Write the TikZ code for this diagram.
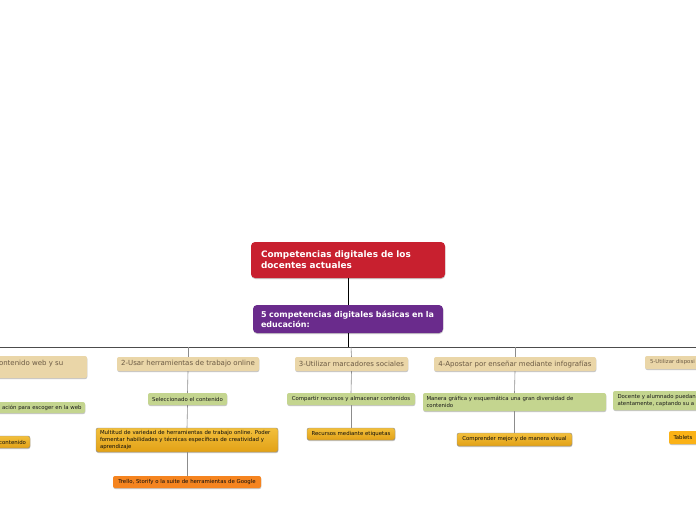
\documentclass[tikz,border=0pt]{standalone}
\usepackage{fontspec}
\setmainfont{DejaVu Sans}
\usetikzlibrary{shadows}
\definecolor{rootred}{HTML}{C8202F}
\definecolor{purp}{HTML}{6A2B8C}
\definecolor{tan}{HTML}{EAD6A8}
\definecolor{tantext}{HTML}{6B5A44}
\definecolor{grn}{HTML}{C4D58F}
\definecolor{yeltop}{HTML}{F2BF3C}
\definecolor{yelbot}{HTML}{E2A116}
\definecolor{orng}{HTML}{F5841F}
\definecolor{yel5}{HTML}{FBB216}
\tikzset{
  base/.style={rounded corners=2pt, inner sep=0pt, outer sep=0pt,
    drop shadow={shadow xshift=0.3pt, shadow yshift=-1pt, opacity=.55, fill=gray!80}},
  bigbox/.style={base, rounded corners=4pt, text=white, align=left, text width=174pt},
  topicbox/.style={base, fill=tan, text=tantext, font=\fontsize{7}{8.5}\selectfont, align=center},
  greenbox/.style={base, fill=grn, text=black!90, font=\fontsize{5.4}{6.4}\selectfont, align=center},
  yelbox/.style={base, top color=yeltop, bottom color=yelbot, draw=black!45, line width=0.4pt, text=black!95, font=\fontsize{5.4}{6.6}\selectfont, align=center},
  orbox/.style={base, fill=orng, text=black!95, font=\fontsize{5.4}{6.4}\selectfont, align=center},
  txt/.style={inner sep=0pt, outer sep=0pt},
  mainline/.style={draw=black, line width=0.9pt},
  hline/.style={draw=black!70, line width=0.7pt},
  colline/.style={draw=black!45, line width=0.6pt},
}
\begin{document}
\begin{tikzpicture}[x=1pt,y=1pt]
\useasboundingbox (0,0) rectangle (696,-520);
\clip (0,0) rectangle (696,-520);
\fill[white] (0,0) rectangle (696,-520);

% coordinates on the horizontal bar
\coordinate (hl) at (0,-347);
\coordinate (hr) at (696,-347);
\coordinate (hc) at (348,-347);
\coordinate (h2) at (188,-347);
\coordinate (h3) at (351,-347);
\coordinate (h4) at (515,-347);

% top nodes
\node[bigbox, fill=rootred, minimum width=194pt, minimum height=36pt,
  font=\fontsize{8.9}{11}\selectfont\bfseries] (root) at (348,-260)
  {Competencias digitales de los\\docentes actuales};
\node[bigbox, fill=purp, minimum width=190pt, minimum height=28pt,
  font=\fontsize{8}{10}\selectfont\bfseries] (purple) at (348,-319)
  {5 competencias digitales básicas en la\\educación:};

% topic boxes
\node[topicbox, minimum width=120pt, minimum height=22pt, anchor=east] (t1) at (87,-367) {};
\node[txt, anchor=west, text=tantext, font=\fontsize{7}{8.5}\selectfont] (t1t) at (-1,-363.5) {ontenido web y su};
\node[topicbox, minimum width=142pt, minimum height=14pt] (t2) at (188,-364) {2-Usar herramientas de trabajo online};
\node[topicbox, minimum width=113pt, minimum height=14pt] (t3) at (351.5,-364) {3-Utilizar marcadores sociales};
\node[topicbox, minimum width=162pt, minimum height=14pt] (t4) at (515,-364) {4-Apostar por enseñar mediante infografías};
\node[topicbox, minimum width=100pt, minimum height=13pt, anchor=west] (t5) at (645,-362.5) {};
\node[txt, anchor=west, text=tantext, font=\fontsize{5.4}{6.4}\selectfont] (t5t) at (650,-362.5) {5-Utilizar disposi};

% green boxes
\node[greenbox, minimum width=120pt, minimum height=11pt, anchor=east] (g1) at (85,-407.5) {};
\node[txt, anchor=east, font=\fontsize{5.4}{6.4}\selectfont, text=black!90] (g1t) at (81.5,-407.5) {ación para escoger en la web};
\node[greenbox, minimum width=79pt, minimum height=12pt] (g2) at (187.5,-399) {Seleccionado el contenido};
\node[greenbox, minimum width=128pt, minimum height=12pt] (g3) at (351,-399) {Compartir recursos y almacenar contenidos};
\node[greenbox, minimum width=183pt, minimum height=18pt, align=left, text width=176pt] (g4) at (514.5,-402)
  {Manera gráfica y esquemática una gran diversidad de\\contenido};
\node[greenbox, minimum width=100pt, minimum height=19pt, anchor=west] (g5) at (613,-400.5) {};
\node[txt, anchor=west, align=left, font=\fontsize{5.4}{6.4}\selectfont, text=black!90] (g5t) at (617.5,-400.5)
  {Docente y alumnado puedan\\atentamente, captando su a};

% yellow boxes
\node[yelbox, minimum width=60pt, minimum height=12pt, anchor=east] (y1) at (30,-442) {};
\node[txt, anchor=east, font=\fontsize{5.4}{6.4}\selectfont, text=black!95] (y1t) at (26,-442) {contenido};
\node[yelbox, minimum width=182pt, minimum height=24pt, align=left, text width=174pt] (y2) at (187,-440)
  {Multitud de variedad de herramientas de trabajo online. Poder\\fomentar habilidades y técnicas específicas de creatividad y\\aprendizaje};
\node[yelbox, minimum width=88pt, minimum height=12pt] (y3) at (351,-434) {Recursos mediante etiquetas};
\node[yelbox, minimum width=115pt, minimum height=13pt] (y4) at (514.5,-439.5) {Comprender mejor y de manera visual};
\node[base, fill=yel5, minimum width=60pt, minimum height=13pt, anchor=west] (y5) at (669,-437.5) {};
\node[txt, anchor=west, font=\fontsize{5.4}{6.4}\selectfont, text=black!95] (y5t) at (673.5,-437.5) {Tablets};

% orange box
\node[orbox, minimum width=148pt, minimum height=12pt] (o2) at (187,-482) {Trello, Storify o la suite de herramientas de Google};

% connectors
\draw[mainline] (root.south) -- (purple.north);
\draw[mainline, line width=0.8pt] (purple.south) -- (hc);
\draw[hline] (hl) -- (hr);
\draw[colline] (h2) -- (t2.north);
\draw[colline] (t2.south) -- (g2.north);
\draw[colline] (g2.south) -- (y2.north);
\draw[colline] (y2.south) -- (o2.north);
\draw[colline] (h3) -- (t3.north);
\draw[colline] (t3.south) -- (g3.north);
\draw[colline] (g3.south) -- (y3.north);
\draw[colline] (h4) -- (t4.north);
\draw[colline] (t4.south) -- (g4.north);
\draw[colline] (g4.south) -- (y4.north);
\end{tikzpicture}
\end{document}
